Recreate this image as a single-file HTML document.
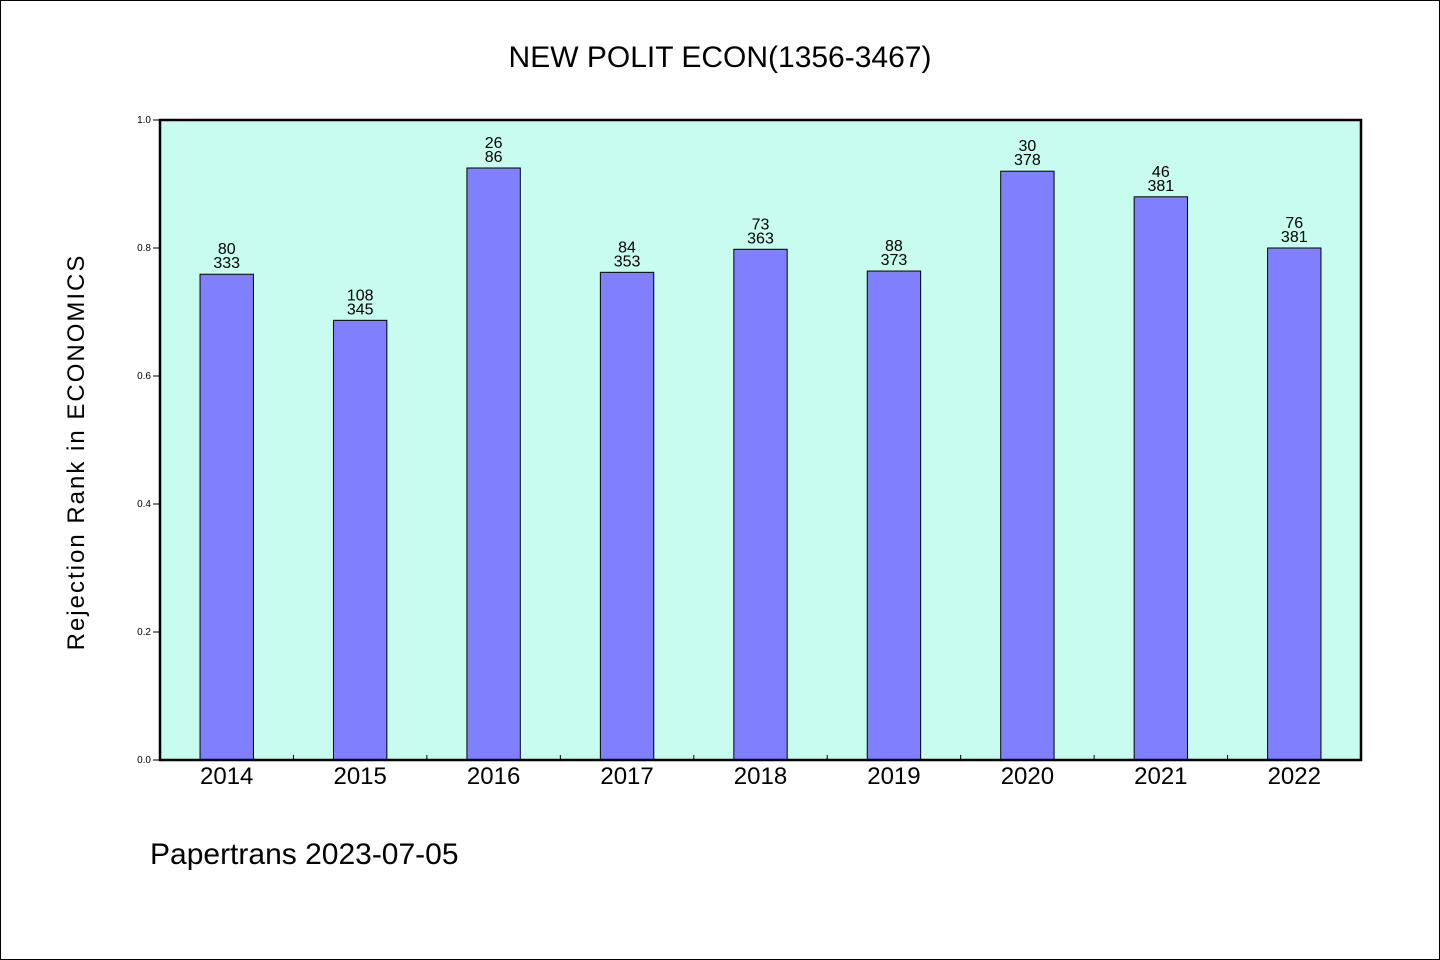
<!DOCTYPE html>
<html><head><meta charset="utf-8"><style>
html,body{margin:0;padding:0;background:#fff}
svg{display:block}
text{font-family:"WenQuanYi Zen Hei","Liberation Sans",sans-serif;fill:#000}
</style></head><body>
<svg id="chart" width="1440" height="960">
<rect x="0.5" y="0.5" width="1439" height="959" fill="#fff" stroke="#000"/>
<text x="720" y="67" font-size="30" text-anchor="middle">NEW POLIT ECON(1356-3467)</text>
<rect x="160" y="120" width="1201" height="640" fill="#c8fcee"/>
<g id="bars"></g>
<rect x="160" y="120" width="1201" height="640" fill="none" stroke="#000" stroke-width="2.5"/>
<text transform="translate(84,452) rotate(-90)" font-size="24" text-anchor="middle" letter-spacing="2">Rejection Rank in ECONOMICS</text>
<text x="150" y="864" font-size="30">Papertrans 2023-07-05</text>
</svg>
<script>
const categories=["2014","2015","2016","2017","2018","2019","2020","2021","2022"];
const values=[0.759,0.687,0.925,0.762,0.798,0.764,0.920,0.880,0.800];
const topLabels=["80","108","26","84","73","88","30","46","76"];
const bottomLabels=["333","345","86","353","363","373","378","381","381"];
const yTicks=[0,0.2,0.4,0.6,0.8,1.0];
const yTickLabels=["0.0","0.2","0.4","0.6","0.8","1.0"];
const X0=160,X1=1361,Y0=760,Y1=120;
const slot=(X1-X0)/categories.length;
const xc=i=>X0+slot*(i+0.5);
const y=v=>Y0-(Y0-Y1)*v;
const ns="http://www.w3.org/2000/svg";
const g=document.getElementById('bars');
function mk(tag,attrs,txt){const e=document.createElementNS(ns,tag);for(const k in attrs)e.setAttribute(k,attrs[k]);if(txt!==undefined)e.textContent=txt;g.appendChild(e);return e;}
const bw=slot*0.4;
categories.forEach((c,i)=>{
  const r=mk('rect',{x:xc(i)-bw/2,y:y(values[i]),width:bw,height:Y0-y(values[i]),fill:'#8080ff',stroke:'#000','stroke-width':1});
  
  
  const t1=mk('text',{x:xc(i),y:y(values[i])-20,'font-size':16,'text-anchor':'middle'},topLabels[i]);
  
  
  const t2=mk('text',{x:xc(i),y:y(values[i])-6,'font-size':16,'text-anchor':'middle'},bottomLabels[i]);
  
  
  const xl=mk('text',{x:xc(i),y:784,'font-size':24,'text-anchor':'middle'},c);
  
  
  if(i>0){
    const tk=mk('line',{x1:X0+slot*i,x2:X0+slot*i,y1:Y0,y2:Y0-5,stroke:'#000','stroke-width':1});
    
    
  }
});
yTicks.forEach((v,i)=>{
  const tk=mk('line',{x1:X0-7,x2:X0,y1:y(v),y2:y(v),stroke:'#000','stroke-width':1});
  
  
  const tl=mk('text',{x:X0-9,y:y(v)+3,'font-size':10,'text-anchor':'end'},yTickLabels[i]);
  
  
});
</script>
</body></html>
